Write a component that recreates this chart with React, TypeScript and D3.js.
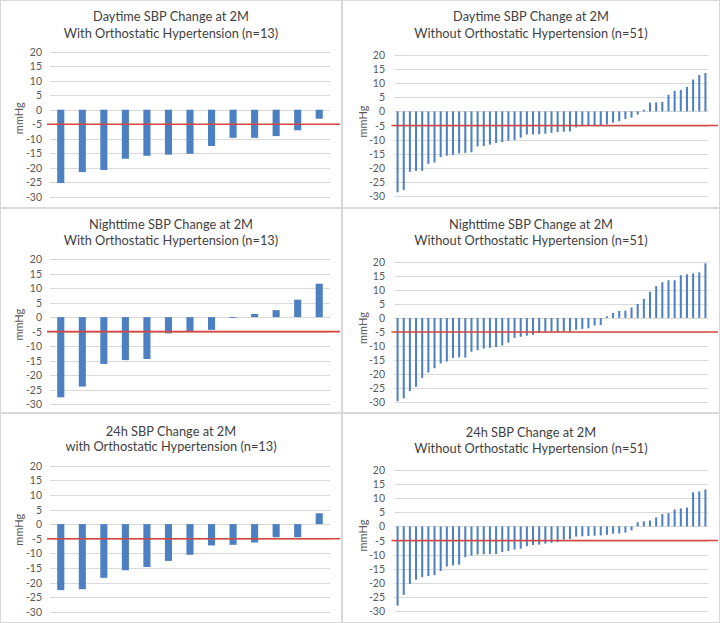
import React from 'react';
import * as d3 from 'd3';

// ---- data (mmHg change, sorted as in the reference) ----
const dayWith = [-25.3, -21.5, -20.8, -16.9, -15.9, -15.5, -15.2, -12.5, -9.7, -9.7, -9.1, -7.1, -3.1];
const nightWith = [-27.6, -23.9, -16.1, -14.8, -14.4, -5.6, -5.0, -4.4, -0.3, 1.1, 2.4, 6.0, 11.5];
const h24With = [-22.6, -22.3, -18.4, -15.8, -14.7, -12.6, -10.5, -7.3, -7.1, -6.3, -4.5, -4.5, 3.7];

const dayWithout = [
  -28.7, -27.9, -21.4, -21.1, -21.1, -18.6, -18.1, -16.2, -15.7, -15.4,
  -14.9, -14.7, -14.5, -12.4, -12.3, -11.8, -11.2, -10.9, -10.4, -10.2,
  -9.3, -8.2, -8.2, -8.1, -7.9, -7.6, -7.3, -7.2, -7.1, -5.7,
  -5.2, -5.1, -4.9, -4.8, -4.6, -4.0, -3.5, -2.7, -2.2, -1.1,
  0.6, 3.1, 3.2, 3.4, 5.9, 7.3, 7.6, 8.7, 11.3, 12.9, 13.6,
];
const nightWithout = [
  -29.6, -28.6, -26.0, -24.5, -21.4, -19.4, -17.9, -16.2, -15.5, -14.2,
  -14.0, -14.1, -12.0, -11.5, -10.9, -10.6, -10.4, -9.8, -8.8, -7.1,
  -6.7, -6.3, -6.0, -5.3, -5.1, -5.0, -5.0, -4.8, -4.7, -4.2,
  -3.9, -3.7, -2.7, -2.5, 0.6, 1.8, 2.5, 2.6, 3.7, 5.0,
  6.8, 9.3, 11.3, 12.7, 13.4, 13.4, 15.2, 15.5, 15.8, 16.2, 19.4,
];
const h24Without = [
  -28.1, -24.3, -20.4, -18.9, -18.0, -17.6, -17.3, -15.8, -14.2, -13.8,
  -13.6, -10.9, -10.4, -10.0, -9.9, -9.8, -9.8, -9.1, -8.7, -8.2,
  -7.9, -7.0, -6.6, -6.5, -6.1, -5.8, -5.5, -4.7, -4.5, -3.6,
  -3.5, -3.4, -3.3, -3.2, -3.0, -2.6, -2.5, -2.2, -1.4, 1.5,
  1.8, 2.1, 3.2, 4.4, 4.7, 6.0, 6.4, 6.7, 12.1, 12.4, 13.1,
];

const yTicks = [20, 15, 10, 5, 0, -5, -10, -15, -20, -25, -30];
const yDomain = [-30, 20];
const threshold = -5;
const axisTitle = 'mmHg';

const titleLine1 = ['Daytime SBP Change at 2M', 'Nighttime SBP Change at 2M', '24h SBP Change at 2M'];
const titleLine2With = ['With Orthostatic Hypertension (n=13)', 'With Orthostatic Hypertension (n=13)', 'with Orthostatic Hypertension (n=13)'];
const titleLine2Without = ['Without Orthostatic Hypertension (n=51)', 'Without Orthostatic Hypertension (n=51)', 'Without Orthostatic Hypertension (n=51)'];

// ---- styling ----
const BAR = '#4d80c1';
const RED = '#d8453c';
const GRID = '#d9d9d9';
const BORDER = '#d9d9d9';
const FONT = 'Lato, "Open Sans", sans-serif';

type Layout = {
  x0: number; y0: number; w: number; h: number;
  plotL: number; plotR: number; yTop: number; yBot: number;
  t1: number; t2: number; tickX: number; axisX: number; axisDy: number;
};

const layouts: Layout[] = [
  { x0: 0, y0: 0, w: 342, h: 208, plotL: 50, plotR: 330, yTop: 51.7, yBot: 196.7, t1: 16, t2: 33, tickX: 42, axisX: 18, axisDy: -6 },
  { x0: 342, y0: 0, w: 378, h: 208, plotL: 394.5, plotR: 708.5, yTop: 55, yBot: 196, t1: 16, t2: 33.3, tickX: 385, axisX: 362, axisDy: -4 },
  { x0: 0, y0: 208, w: 342, h: 205, plotL: 50, plotR: 330, yTop: 259, yBot: 404.3, t1: 224, t2: 240, tickX: 42, axisX: 18, axisDy: -7 },
  { x0: 342, y0: 208, w: 378, h: 205, plotL: 394.5, plotR: 708.5, yTop: 261.7, yBot: 402.3, t1: 224, t2: 240, tickX: 385, axisX: 362, axisDy: -4 },
  { x0: 0, y0: 413, w: 342, h: 210, plotL: 50, plotR: 330, yTop: 465.7, yBot: 611.7, t1: 430.7, t2: 446, tickX: 42, axisX: 18, axisDy: -9 },
  { x0: 342, y0: 413, w: 378, h: 210, plotL: 394.5, plotR: 708.5, yTop: 470, yBot: 611, t1: 431.7, t2: 448, tickX: 385, axisX: 362, axisDy: -5 },
];

function Panel({ data, l1, l2, L }: { data: number[]; l1: string; l2: string; L: Layout }) {
  const x = d3.scaleBand<number>()
    .domain(d3.range(data.length))
    .range([L.plotL, L.plotR])
    .paddingInner(0.67)
    .paddingOuter(0.335);
  const y = d3.scaleLinear().domain(yDomain).range([L.yBot, L.yTop]);
  const cx = L.x0 + L.w / 2;
  const midY = (L.yTop + L.yBot) / 2 + L.axisDy;
  return (
    <g>
      <rect x={L.x0 + 0.5} y={L.y0 + 0.5} width={L.w - 1} height={L.h - 1} fill="#fff" stroke={BORDER} />
      <text x={cx} y={L.t1} textAnchor="middle" dominantBaseline="central" fontSize={12.8} fill="#3f3f3f" fontFamily={FONT}>{l1}</text>
      <text x={cx} y={L.t2} textAnchor="middle" dominantBaseline="central" fontSize={12.8} fill="#3f3f3f" fontFamily={FONT}>{l2}</text>
      {yTicks.map((t) => (
        <g key={t}>
          <line x1={L.plotL} x2={L.plotR} y1={Math.round(y(t)) + 0.5} y2={Math.round(y(t)) + 0.5} stroke={GRID} strokeWidth={1} />
          <text x={L.tickX} y={y(t)} textAnchor="end" dominantBaseline="central" fontSize={10.5} fill="#595959" fontFamily={FONT}>{t}</text>
        </g>
      ))}
      <text
        transform={`translate(${L.axisX},${midY}) rotate(-90)`}
        textAnchor="middle" dominantBaseline="central" fontSize={11} fill="#595959" fontFamily={FONT}
      >{axisTitle}</text>
      {data.map((v, i) => (
        <rect
          key={i}
          x={x(i)}
          width={x.bandwidth()}
          y={Math.min(y(v), y(0))}
          height={Math.max(Math.abs(y(v) - y(0)), 0.8)}
          fill={BAR}
        />
      ))}
      <line x1={L.plotL - 3} x2={L.x0 + L.w - 2} y1={y(threshold)} y2={y(threshold)} stroke={RED} strokeWidth={1.6} />
    </g>
  );
}

export default function App() {
  const sets = [
    { data: dayWith, l1: titleLine1[0], l2: titleLine2With[0] },
    { data: dayWithout, l1: titleLine1[0], l2: titleLine2Without[0] },
    { data: nightWith, l1: titleLine1[1], l2: titleLine2With[1] },
    { data: nightWithout, l1: titleLine1[1], l2: titleLine2Without[1] },
    { data: h24With, l1: titleLine1[2], l2: titleLine2With[2] },
    { data: h24Without, l1: titleLine1[2], l2: titleLine2Without[2] },
  ];
  return (
    <svg width={720} height={623} style={{ position: 'absolute', left: 0, top: 0, background: '#fff' }}>
      {sets.map((s, i) => (
        <Panel key={i} data={s.data} l1={s.l1} l2={s.l2} L={layouts[i]} />
      ))}
    </svg>
  );
}
